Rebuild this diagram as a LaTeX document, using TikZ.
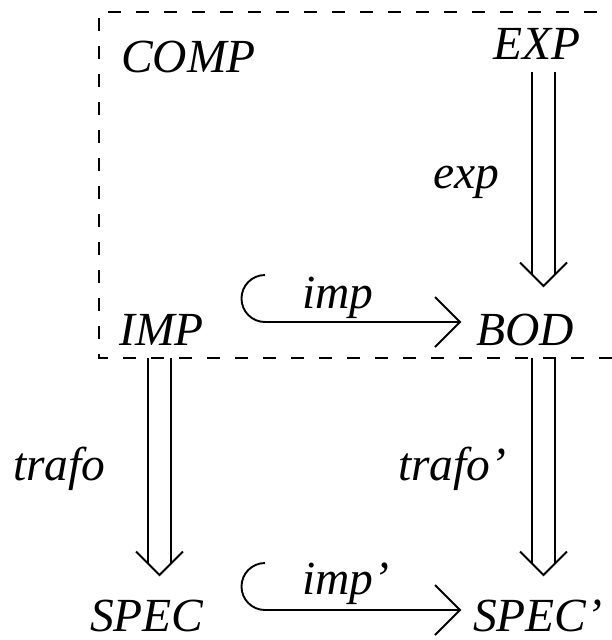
\documentclass[tikz,border=0pt]{standalone}
\usepackage{fontspec}
\setmainfont{Liberation Serif}
\newcommand\dblarr[2]{%
  \draw[ln] ([xshift=-11.5pt]#1) -- ([xshift=-11.5pt,yshift=11.5pt]#2);
  \draw[ln] ([xshift=11.5pt]#1) -- ([xshift=11.5pt,yshift=11.5pt]#2);
  \draw[ln] ([xshift=-23.5pt,yshift=23.5pt]#2) -- (#2) -- ([xshift=23.5pt,yshift=23.5pt]#2);}
\begin{document}
\begin{tikzpicture}[x=1pt,y=-1pt,
  lbl/.style={anchor=base west,inner sep=0pt,font=\fontsize{47.5}{52}\selectfont\itshape},
  ln/.style={line width=1.9pt},
  box/.style={line width=1.9pt,dash pattern=on 13pt off 15pt}]
\useasboundingbox (0,0) rectangle (611,640);
% dashed component box
\draw[box] (625,12) -- (99,12) -- (99,358) -- (625,358);
% texts
\node[lbl] (COMP) at (121,72) {COMP};
\node[lbl] (EXP) at (493,59) {EXP};
\node[lbl] (exp) at (433,188) {exp};
\node[lbl] (IMP) at (119,345) {IMP};
\node[lbl] (BOD) at (476,345) {BOD};
\node[lbl] (imp) at (302,308) {imp};
\node[lbl] (trafo) at (13,480) {trafo};
\node[lbl] (trafo2) at (398,480) {trafo’};
\node[lbl] (SPEC) at (90,631) {SPEC};
\node[lbl] (SPEC2) at (473,631) {SPEC’};
\node[lbl] (imp2) at (302,594) {imp’};
% arrow end points
\coordinate (expS) at (543.5,72);
\coordinate (bodT) at (543.5,286);
\coordinate (impS) at (159.5,358);
\coordinate (specT) at (159.5,575);
\coordinate (bodS) at (543.5,358);
\coordinate (spec2T) at (543.5,575);
\coordinate (h1) at (265,275);
\coordinate (h1t) at (460,322);
\coordinate (h2) at (265,563);
\coordinate (h2t) at (460,610);
% double arrows
\dblarr{expS}{bodT}
\dblarr{impS}{specT}
\dblarr{bodS}{spec2T}
% hook arrows
\draw[ln] (h1) arc[start angle=-90,end angle=-270,radius=23.5] -- (h1t);
\draw[ln] ([xshift=-25pt,yshift=25pt]h1t) -- (h1t) -- ([xshift=-25pt,yshift=-25pt]h1t);
\draw[ln] (h2) arc[start angle=-90,end angle=-270,radius=23.5] -- (h2t);
\draw[ln] ([xshift=-25pt,yshift=25pt]h2t) -- (h2t) -- ([xshift=-25pt,yshift=-25pt]h2t);
\end{tikzpicture}
\end{document}
